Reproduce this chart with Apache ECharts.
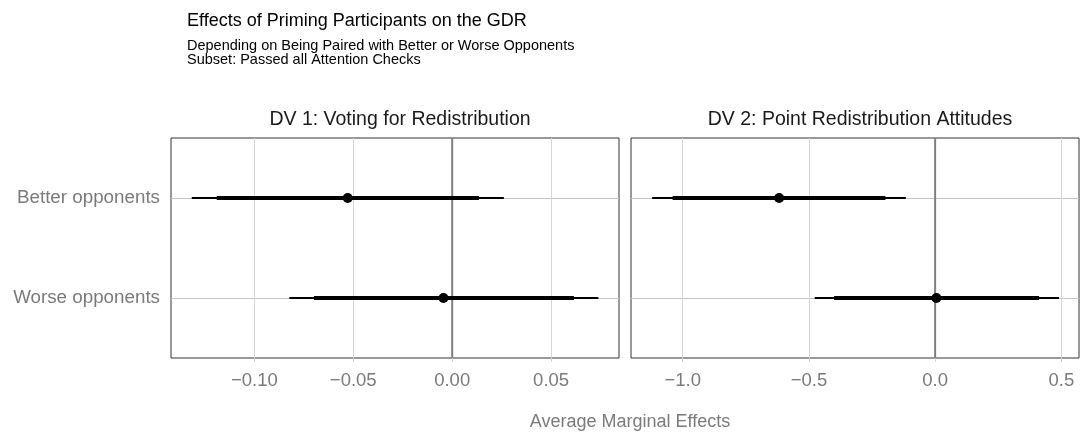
<!DOCTYPE html>
<html lang="en">
<head>
<meta charset="utf-8" />
<title>Effects of Priming Participants on the GDR</title>
<script src="https://cdn.jsdelivr.net/npm/echarts@6/dist/echarts.min.js"></script>
</head>
<body style="margin:0;background:#fff">
<div id="main" style="width:1081px;height:434px"></div>
<script>
// categories, bottom to top
const categories = ['Worse opponents', 'Better opponents'];
const panelTitles = ['DV 1: Voting for Redistribution', 'DV 2: Point Redistribution Attitudes'];

// DV 1: voting for redistribution
const dv1Est = [-0.0044, -0.0528];
const dv1Lo95 = [-0.0823, -0.1316];
const dv1Hi95 = [0.0739, 0.0261];
const dv1Lo90 = [-0.0699, -0.1190];
const dv1Hi90 = [0.0615, 0.0135];

// DV 2: point redistribution attitudes
const dv2Est = [0.005, -0.618];
const dv2Lo95 = [-0.477, -1.121];
const dv2Hi95 = [0.491, -0.116];
const dv2Lo90 = [-0.400, -1.040];
const dv2Hi90 = [0.412, -0.197];

const dv1Ticks = [-0.10, -0.05, 0.00, 0.05];
const dv2Ticks = [-1.0, -0.5, 0.0, 0.5];

const font = 'Liberation Sans, Arial, sans-serif';
const grey = '#7a7a7a';

function rows(est, lo95, hi95, lo90, hi90) {
    return categories.map((c, i) => [i + 1, est[i], lo95[i], hi95[i], lo90[i], hi90[i]]);
}

function renderInterval(params, api) {
    let y = api.value(0);
    let a95 = api.coord([api.value(2), y]);
    let b95 = api.coord([api.value(3), y]);
    let a90 = api.coord([api.value(4), y]);
    let b90 = api.coord([api.value(5), y]);
    let p = api.coord([api.value(1), y]);
    return {
        type: 'group',
        children: [
            { type: 'line', shape: { x1: a95[0], y1: a95[1], x2: b95[0], y2: b95[1] }, style: { stroke: '#000', lineWidth: 1.8 } },
            { type: 'line', shape: { x1: a90[0], y1: a90[1], x2: b90[0], y2: b90[1] }, style: { stroke: '#000', lineWidth: 4 } },
            { type: 'circle', shape: { cx: p[0], cy: p[1], r: 5 }, style: { fill: '#000' } }
        ]
    };
}

function xAxisFor(idx, min, max, ticks) {
    return {
        type: 'value', gridIndex: idx, min: min, max: max,
        axisLine: { show: false },
        axisTick: { show: true, length: 4, lineStyle: { color: '#cfcfcf' }, customValues: ticks },
        axisLabel: {
            customValues: ticks, color: grey, fontSize: 18.5, fontFamily: font, margin: 13,
            formatter: v => (idx === 0 ? v.toFixed(2) : v.toFixed(1)).replace('-', '\u2212')
        },
        splitLine: { show: true, lineStyle: { color: '#d6d6d6', width: 1 } }
    };
}

function yAxisFor(idx) {
    return {
        type: 'value', gridIndex: idx, min: 0.4, max: 2.6,
        axisLine: { show: false },
        axisTick: { show: idx === 0, length: 5, lineStyle: { color: '#cfcfcf' }, customValues: [1, 2] },
        axisLabel: {
            show: idx === 0, customValues: [1, 2], color: grey, fontSize: 18.8, fontFamily: font, margin: 11,
            formatter: v => categories[Math.round(v) - 1] || ''
        },
        splitLine: { show: true, lineStyle: { color: '#c4c4c4', width: 1 } }
    };
}

function zeroLine(idx) {
    return {
        type: 'line', xAxisIndex: idx, yAxisIndex: idx, silent: true, symbol: 'none', z: 3,
        lineStyle: { color: '#808080', width: 2 },
        data: [[0, 0.4], [0, 2.6]]
    };
}

let chart = echarts.init(document.getElementById('main'), null, { renderer: 'canvas' });
chart.setOption({
    backgroundColor: '#fff',
    animation: false,
    title: [
        { text: 'Effects of Priming Participants on the GDR', left: 182, top: 7,
          textStyle: { fontSize: 18, fontWeight: 'normal', color: '#000', fontFamily: font } },
        { text: 'Depending on Being Paired with Better or Worse Opponents\nSubset: Passed all Attention Checks', left: 182, top: 34,
          textStyle: { fontSize: 14.5, fontWeight: 'normal', color: '#000', fontFamily: font, lineHeight: 14 } },
        { text: panelTitles[0], left: 395, top: 105, textAlign: 'center',
          textStyle: { fontSize: 19.5, fontWeight: 'normal', color: '#1a1a1a', fontFamily: font } },
        { text: panelTitles[1], left: 855, top: 105, textAlign: 'center',
          textStyle: { fontSize: 19.5, fontWeight: 'normal', color: '#1a1a1a', fontFamily: font } },
        { text: 'Average Marginal Effects', left: 625, top: 408, textAlign: 'center',
          textStyle: { fontSize: 18, fontWeight: 'normal', color: grey, fontFamily: font } }
    ],
    grid: [
        { left: 171, right: 462, top: 138, bottom: 76, show: true, borderColor: '#333', borderWidth: 1, backgroundColor: '#fff' },
        { left: 631, right: 2, top: 138, bottom: 76, show: true, borderColor: '#333', borderWidth: 1, backgroundColor: '#fff' }
    ],
    xAxis: [xAxisFor(0, -0.1421, 0.0843, dv1Ticks), xAxisFor(1, -1.2048, 0.570, dv2Ticks)],
    yAxis: [yAxisFor(0), yAxisFor(1)],
    series: [
        zeroLine(0),
        zeroLine(1),
        {
            type: 'custom', xAxisIndex: 0, yAxisIndex: 0, z: 5,
            renderItem: renderInterval,
            encode: { x: [1, 2, 3, 4, 5], y: 0 },
            data: rows(dv1Est, dv1Lo95, dv1Hi95, dv1Lo90, dv1Hi90)
        },
        {
            type: 'custom', xAxisIndex: 1, yAxisIndex: 1, z: 5,
            renderItem: renderInterval,
            encode: { x: [1, 2, 3, 4, 5], y: 0 },
            data: rows(dv2Est, dv2Lo95, dv2Hi95, dv2Lo90, dv2Hi90)
        }
    ]
});
</script>
</body>
</html>
